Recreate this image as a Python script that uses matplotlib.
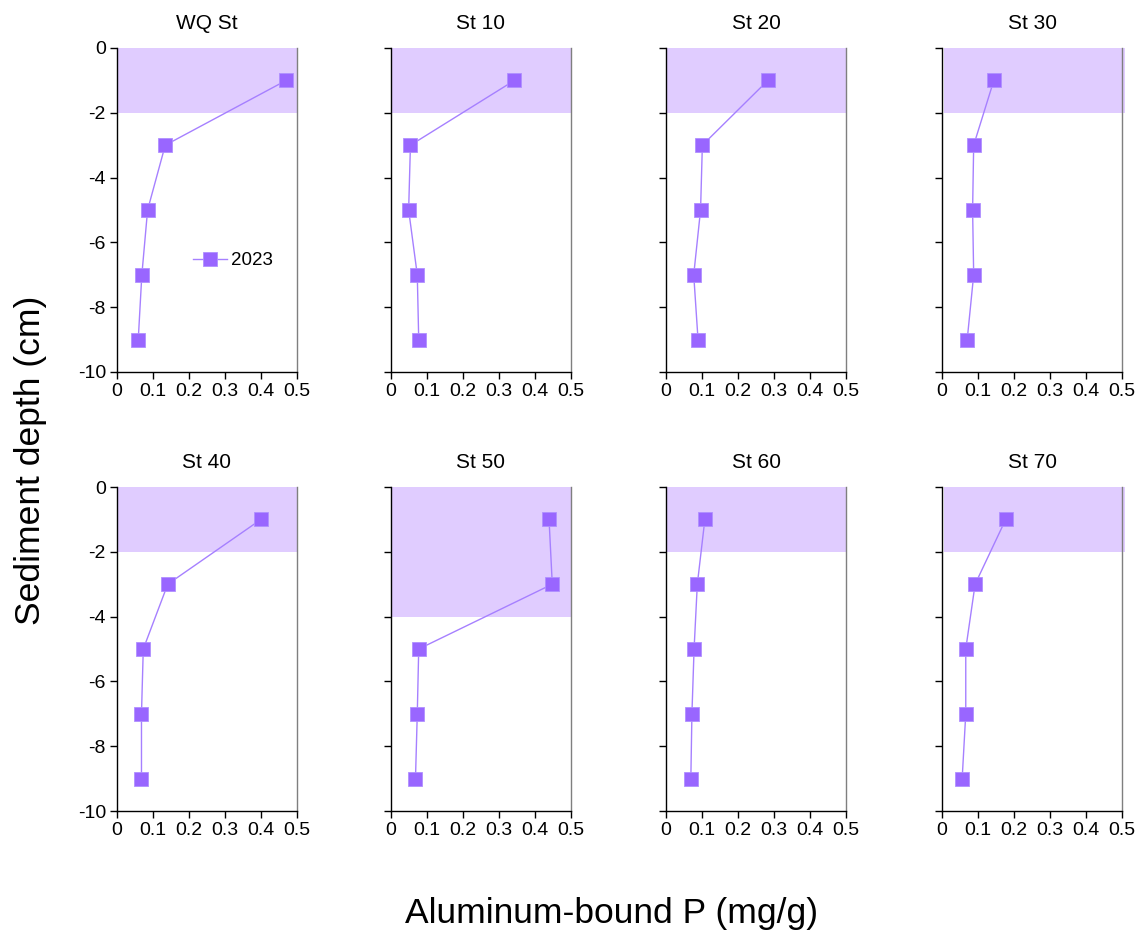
import matplotlib
matplotlib.use("Agg")
import matplotlib.pyplot as plt
from matplotlib.patches import Rectangle

plt.rcParams['font.family'] = ['Liberation Sans', 'DejaVu Sans']
plt.rcParams['axes.unicode_minus'] = False

# Station profiles: aluminum-bound P (mg/g) at each depth midpoint (cm)
stations = ["WQ St", "St 10", "St 20", "St 30", "St 40", "St 50", "St 60", "St 70"]
depths = [-1, -3, -5, -7, -9]
wq_st = [0.470, 0.134, 0.085, 0.069, 0.059]
st10 = [0.343, 0.054, 0.049, 0.073, 0.077]
st20 = [0.283, 0.101, 0.096, 0.077, 0.089]
st30 = [0.144, 0.088, 0.085, 0.088, 0.070]
st40 = [0.400, 0.141, 0.073, 0.068, 0.068]
st50 = [0.439, 0.448, 0.077, 0.073, 0.068]
st60 = [0.108, 0.087, 0.078, 0.072, 0.069]
st70 = [0.177, 0.092, 0.066, 0.066, 0.056]
profiles = [wq_st, st10, st20, st30, st40, st50, st60, st70]
# depth of the shaded surface layer for each station (cm)
layer_bottom = [-2, -2, -2, -2, -2, -4, -2, -2]
year_label = "2023"

x_ticks = [0, 0.1, 0.2, 0.3, 0.4, 0.5]
x_ticklabels = ["0", "0.1", "0.2", "0.3", "0.4", "0.5"]
y_ticks = [0, -2, -4, -6, -8, -10]
y_ticklabels = ["0", "-2", "-4", "-6", "-8", "-10"]

W, H = 1140, 936
fig = plt.figure(figsize=(W / 100, H / 100), dpi=100)

col_left = [117, 391, 666, 942]
row_top = [48, 487]
ax_w, ax_h = 180, 324

marker_col = "#9966FF"
line_col = "#A680FF"
shade_col = "#E0CCFF"

for i, (name, vals, lb) in enumerate(zip(stations, profiles, layer_bottom)):
    r, c = divmod(i, 4)
    left = col_left[c] / W
    bottom = 1 - (row_top[r] + ax_h) / H
    ax = fig.add_axes([left, bottom, ax_w / W, ax_h / H])
    ax.set_xlim(0, 0.5)
    ax.set_ylim(-10, 0)

    # shaded surface layer
    if name in ("St 30", "St 70"):
        ax.add_patch(Rectangle((0.0065, lb), 0.5025, -lb - 0.01, facecolor=shade_col,
                               edgecolor="none", zorder=0, clip_on=False))
    else:
        ax.axhspan(lb, 0, facecolor=shade_col, edgecolor="none", zorder=0)

    ax.plot(vals, depths, color=line_col, lw=1.0, marker="s", markersize=9.5,
            markerfacecolor=marker_col, markeredgecolor="#B090FF", markeredgewidth=0.6,
            label=year_label, zorder=3)

    ax.set_title(name, fontsize=15, pad=14)
    ax.set_xticks(x_ticks)
    ax.set_xticklabels(x_ticklabels)
    ax.set_yticks(y_ticks)
    if c == 0:
        ax.set_yticklabels(y_ticklabels)
    else:
        ax.set_yticklabels([])
    ax.tick_params(axis="both", direction="out", length=5, width=1, labelsize=14,
                   colors="black", pad=3)
    ax.spines["top"].set_visible(False)
    ax.spines["right"].set_color("#7f7f7f")
    ax.spines["left"].set_color("black")
    ax.spines["bottom"].set_color("black")
    for s in ax.spines.values():
        s.set_linewidth(1.0)

    if i == 0:
        ax.legend(loc="center left", bbox_to_anchor=(0.37, 0.343), frameon=False,
                  fontsize=13.5, handlelength=1.8, handletextpad=0.25, borderpad=0)

fig.text(612 / W, 1 - 913 / H, "Aluminum-bound P (mg/g)", ha="center", va="center",
         fontsize=25.5)
fig.text(31 / W, 1 - 460 / H, "Sediment depth (cm)", ha="center", va="center",
         rotation=90, fontsize=25.5)

fig.savefig("out.png", dpi=100)
